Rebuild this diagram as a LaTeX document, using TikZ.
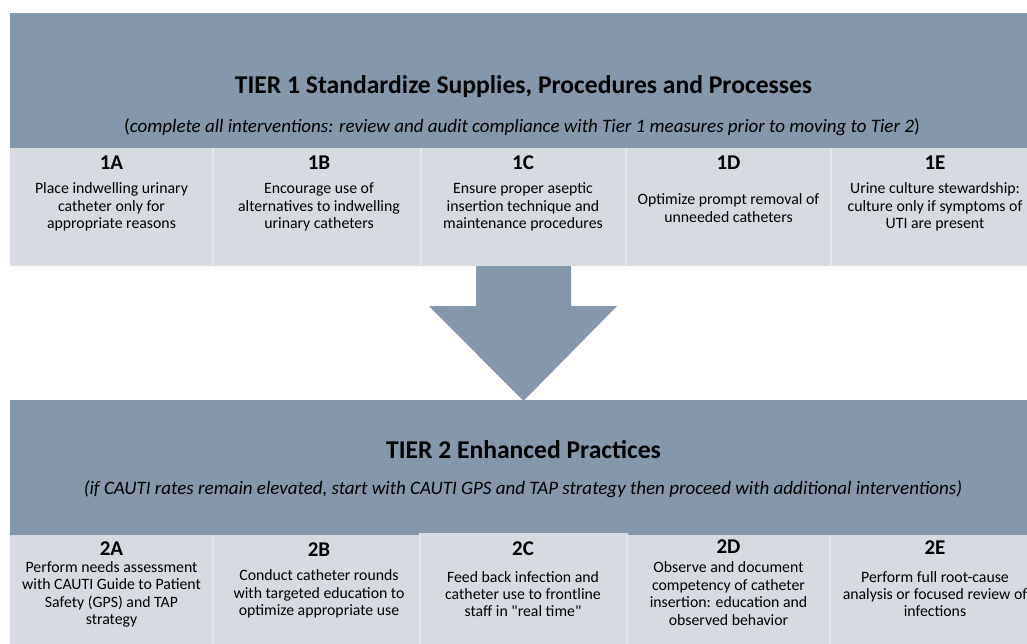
\documentclass[tikz,border=0pt]{standalone}
\usepackage{fontspec}
\setmainfont{Carlito}
\definecolor{hdr}{RGB}{132,151,171}
\definecolor{cellc}{RGB}{214,219,226}
\definecolor{sepc}{RGB}{228,231,236}
% straight double quote, kept out of the TeX quote mapping
\newcommand{\plainquote}{{\addfontfeatures{Ligatures=TeXOff}"}}
\begin{document}
\begin{tikzpicture}[x=1pt,y=-1pt,
  band/.style={fill=hdr,draw=none,inner sep=0pt,anchor=north west},
  cellbox/.style={fill=cellc,draw=none,inner sep=0pt,anchor=north west},
  sepline/.style={draw=sepc,line width=1.6pt},
  title/.style={font=\fontsize{25.6}{30}\selectfont\bfseries,inner sep=0pt},
  subtitle/.style={font=\fontsize{19}{22}\selectfont,inner sep=0pt},
  tag/.style={font=\fontsize{21}{25}\selectfont\bfseries,inner sep=0pt},
  body/.style={font=\fontsize{15.8}{17.4}\selectfont,align=center,inner sep=0pt}]
\useasboundingbox (0,0) rectangle (1027,644);

% ---- Tier 1 band and its five cells
\node[band,minimum width=1017pt,minimum height=135pt] (t1) at (10,13) {};
\node[cellbox,minimum width=203pt,minimum height=118pt] (c1a) at (10,148) {};
\node[cellbox,minimum width=208pt,minimum height=118pt] (c1b) at (213,148) {};
\node[cellbox,minimum width=205pt,minimum height=118pt] (c1c) at (421,148) {};
\node[cellbox,minimum width=205pt,minimum height=118pt] (c1d) at (626,148) {};
\node[cellbox,minimum width=196pt,minimum height=118pt] (c1e) at (831,148) {};
\foreach \n in {c1b,c1c,c1d,c1e}
  \draw[sepline] (\n.north west) -- (\n.south west);

\node[title] (t1title) at (523.5,87) {TIER 1 Standardize Supplies, Procedures and Processes};
\node[subtitle] (t1sub) at (522,127) {(\textit{complete all interventions: review and audit compliance with Tier 1 measures prior to moving to Tier 2})};

\node[tag] (l1a) at (111.5,163) {1A};
\node[tag] (l1b) at (319,163) {1B};
\node[tag] (l1c) at (523,163) {1C};
\node[tag] (l1d) at (728.5,163) {1D};
\node[tag] (l1e) at (935,163) {1E};

\node[body] (x1a) at (111.5,207) {Place indwelling urinary\\catheter only for\\appropriate reasons};
\node[body] (x1b) at (319,207) {Encourage use of\\alternatives to indwelling\\urinary catheters};
\node[body] (x1c) at (523,207) {Ensure proper aseptic\\insertion technique and\\maintenance procedures};
\node[body] (x1d) at (728.5,208) {Optimize prompt removal of\\unneeded catheters};
\node[body] (x1e) at (935,207) {Urine culture stewardship:\\culture only if symptoms of\\UTI are present};

% ---- Tier 2 band and its five cells
\node[band,minimum width=1017pt,minimum height=135pt] (t2) at (10,400) {};
\node[cellbox,minimum width=203pt,minimum height=109pt] (c2a) at (10,535) {};
\node[cellbox,minimum width=207pt,minimum height=109pt] (c2b) at (213,535) {};
\node[cellbox,minimum width=207pt,minimum height=111pt] (c2c) at (420,533) {};
\node[cellbox,minimum width=203pt,minimum height=109pt] (c2d) at (627,535) {};
\node[cellbox,minimum width=197pt,minimum height=109pt] (c2e) at (830,535) {};
\foreach \n in {c2b,c2c,c2d,c2e}
  \draw[sepline] (\n.north west) -- (\n.south west);
\draw[sepline] (c2c.north east) -- (c2c.south east);

\node[title] (t2title) at (523.5,450) {TIER 2 Enhanced Practices};
\node[subtitle] (t2sub) at (523,489) {\textit{(if CAUTI rates remain elevated, start with CAUTI GPS and TAP strategy then proceed with additional interventions)}};

\node[tag] (l2a) at (111.5,549) {2A};
\node[tag] (l2b) at (319,550) {2B};
\node[tag] (l2c) at (523,549) {2C};
\node[tag] (l2d) at (728.5,546.5) {2D};
\node[tag] (l2e) at (935,548) {2E};

\node[body] (x2a) at (111.5,594.5) {Perform needs assessment\\with CAUTI Guide to Patient\\Safety (GPS) and TAP\\strategy};
\node[body] (x2b) at (319,594) {Conduct catheter rounds\\with targeted education to\\optimize appropriate use};
\node[body] (x2c) at (523,594) {Feed back infection and\\catheter use to frontline\\staff in \plainquote real time\plainquote};
\node[body] (x2d) at (728.5,593.5) {Observe and document\\competency of catheter\\insertion: education and\\observed behavior};
\node[body] (x2e) at (935,594) {Perform full root-cause\\analysis or focused review of\\infections};

% ---- block arrow leading from Tier 1 down to Tier 2
\fill[hdr] (476,266) -- (571,266) -- (571,306) -- (617,306) -- (523.5,401)
  -- (429,306) -- (476,306) -- cycle;
\end{tikzpicture}
\end{document}
